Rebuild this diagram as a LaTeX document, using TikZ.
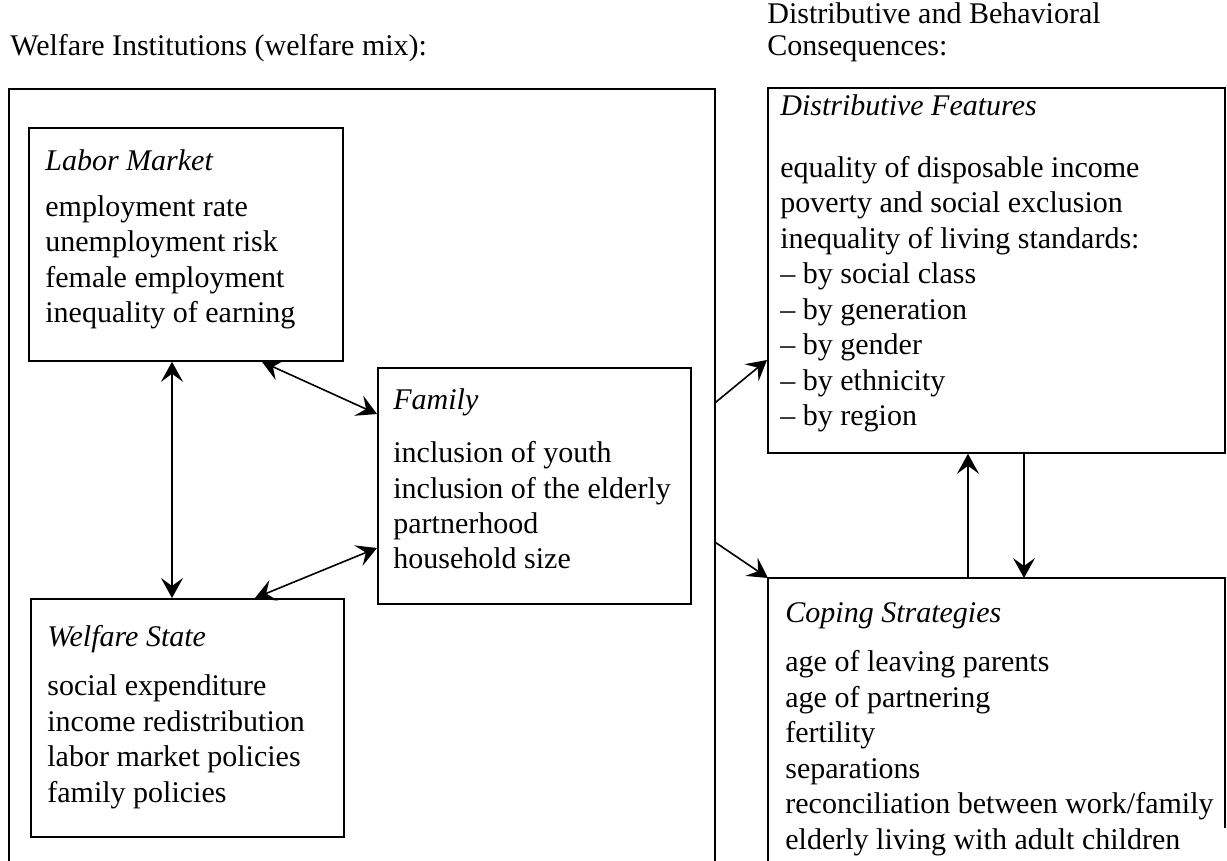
\documentclass[tikz,border=0pt]{standalone}
\usepackage{fontspec}
\setmainfont{Liberation Serif}
\usetikzlibrary{arrows.meta}
\newcommand{\boxlist}[3][7pt]{%
  \begin{tabular}[t]{@{}l@{}}\textit{#2}\\[#1]#3\end{tabular}}

\begin{document}
\begin{tikzpicture}[x=0.5pt, y=-0.5pt, line join=miter,
  every node/.style={font=\fontsize{15pt}{17.75pt}\selectfont, inner sep=0pt},
  frame/.style={draw, line width=0.9pt, anchor=north west},
  txt/.style={anchor=base west},
  tip/.tip={Stealth[length=10pt, width=11pt, inset=4pt]},
  link/.style={line width=0.8pt, -tip},
  both/.style={line width=0.8pt, tip-tip}]

\useasboundingbox (0,0) rectangle (1227,861);

% ---------------- headers ----------------
\node[txt] (hleft) at (10,56) {Welfare Institutions (welfare mix):};
\node[txt] (hright) at (767,24) {\begin{tabular}[t]{@{}l@{}}Distributive and Behavioral\\[-1.75pt]Consequences:\end{tabular}};

% ---------------- welfare mix (open at the bottom) ----------------
\node[anchor=north west, minimum width=352.5pt, minimum height=386pt] (mix) at (9,89) {};
\draw[line width=0.9pt] (mix.south west) |- (mix.north east) -- (mix.south east);

\node[frame, minimum width=157pt, minimum height=116.5pt] (labor) at (28,127) {};
\node[frame, minimum width=156.5pt, minimum height=118pt] (family) at (377,367) {};
\node[frame, minimum width=156.5pt, minimum height=119pt] (welfare) at (30,598) {};

\node[txt] (laborTxt) at (45,171) {\boxlist[5pt]{Labor Market}{employment rate\\unemployment risk\\female employment\\inequality of earning}};
\node[txt] (familyTxt) at (393,409) {\boxlist[9pt]{Family}{inclusion of youth\\inclusion of the elderly\\partnerhood\\household size}};
\node[txt] (welfareTxt) at (47,646) {\boxlist{Welfare State}{social expenditure\\income redistribution\\labor market policies\\family policies}};

% ---------------- consequences ----------------
\node[frame, minimum width=228.5pt, minimum height=182.5pt] (distr) at (767,87) {};
\node[anchor=north west, minimum width=228pt, minimum height=141.5pt] (coping) at (768,578) {};
\draw[line width=0.9pt] (coping.south west) |- (coping.north east) -- (coping.east |- 0,828);

\node[txt] (distrTxt) at (780,116) {\boxlist[13pt]{Distributive Features}{equality of disposable income\\poverty and social exclusion\\inequality of living standards:\\-- by social class\\-- by generation\\-- by gender\\-- by ethnicity\\-- by region}};
\node[txt] (copingTxt) at (785,622) {\boxlist{Coping Strategies}{age of leaving parents\\age of partnering\\fertility\\separations\\reconciliation between work/family\\elderly living with adult children}};

% ---------------- connectors ----------------
\draw[both] (labor.south -| 172,0) -- (welfare.north -| 172,0);
\draw[both] (labor.south -| 262,0) -- (family.west |- 0,414);
\draw[both] (family.west |- 0,548) -- (welfare.north -| 255,0);
\draw[link] (mix.east |- 0,403) -- (distr.west |- 0,360);
\draw[link] (mix.east |- 0,542) -- (coping.north west);
\draw[link] (coping.north -| 968,0) -- (distr.south -| 968,0);
\draw[link] (distr.south -| 1024,0) -- (coping.north -| 1024,0);

\end{tikzpicture}
\end{document}
